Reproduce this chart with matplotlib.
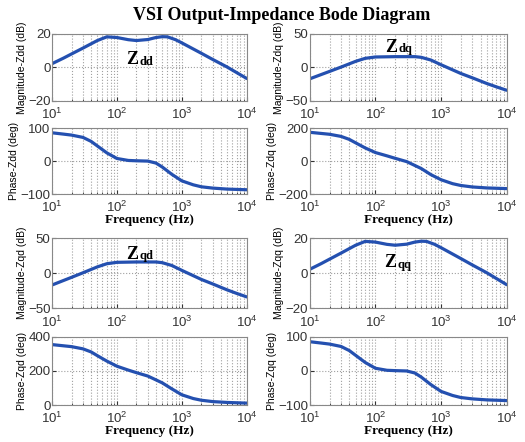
import matplotlib
matplotlib.use('Agg')
import matplotlib.pyplot as plt
import numpy as np

#=================================================================================
# values
f_dd_mag = [10, 15, 20, 30, 50, 70, 100, 150, 200, 300, 400, 500, 600, 800, 1000, 2000, 3000, 5000, 7000, 10000]
zdd_mag = [2.2, 5.5, 8, 11.5, 16, 18.2, 17.8, 16.5, 16.0, 16.6, 17.8, 18.3, 18.2, 16.5, 14.6, 8.4, 4.7, 0.2, -3.1, -6.6]
zqq_mag = [2.2, 5.5, 8, 11.5, 16, 18.2, 17.8, 16.5, 16.0, 16.6, 17.8, 18.3, 18.2, 16.5, 14.6, 8.4, 4.7, 0.2, -3.1, -6.6]

f_dd_ph = [10, 15, 20, 30, 40, 50, 70, 100, 150, 200, 300, 400, 500, 700, 1000, 1500, 2000, 3000, 5000, 10000]
zdd_ph = [86, 82, 79, 72, 60, 46, 25, 8, 2, 1, 0, -6, -18, -40, -60, -72, -78, -82, -85, -87]
zqq_ph = [86, 82, 79, 72, 60, 46, 25, 8, 2, 1, 0, -6, -18, -40, -60, -72, -78, -82, -85, -87]

f_dq_mag = [10, 20, 30, 50, 70, 100, 200, 400, 500, 700, 1000, 2000, 3000, 5000, 7000, 10000]
zdq_mag = [-17, -6, 0.5, 9, 13.5, 15.5, 16, 16, 15, 11, 4, -9, -15.5, -24, -29, -34]
zqd_mag = [-17, -6, 0.5, 9, 13.5, 15.5, 16, 16, 15, 11, 4, -9, -15.5, -24, -29, -34]

f_dq_ph = [10, 20, 30, 40, 50, 70, 100, 150, 200, 300, 500, 700, 1000, 1500, 2000, 3000, 5000, 10000]
zdq_ph = [175, 163, 150, 132, 111, 80, 52, 32, 17, -3, -45, -82, -113, -137, -148, -157, -163, -167]
zqd_ph = [355, 343, 330, 312, 290, 258, 228, 205, 190, 170, 130, 95, 60, 38, 28, 20, 15, 11]

#=================================================================================
plt.rcParams['font.family'] = ['Liberation Sans', 'DejaVu Sans']
plt.rcParams['mathtext.default'] = 'regular'

fig = plt.figure(figsize=(5.25, 4.42), dpi=100)
fig.patch.set_facecolor('white')

line_col = '#2450b0'
grid_col = '#a0a0a0'

left_x, left_w = 0.099, 0.371
right_x, right_w = 0.590, 0.375

panels = [
    # rect, freqs, values, ylim, yticks, ylabel, xlabel
    ([left_x, 0.7715, left_w, 0.152], f_dd_mag, zdd_mag, (-20, 20), [-20, 0, 20], 'Magnitude-Zdd (dB)', False),
    ([left_x, 0.561, left_w, 0.149], f_dd_ph, zdd_ph, (-100, 100), [-100, 0, 100], 'Phase-Zdd (deg)', True),
    ([right_x, 0.7715, right_w, 0.152], f_dq_mag, zdq_mag, (-50, 50), [-50, 0, 50], 'Magnitude-Zdq (dB)', False),
    ([right_x, 0.561, right_w, 0.149], f_dq_ph, zdq_ph, (-200, 200), [-200, 0, 200], 'Phase-Zdq (deg)', True),
    ([left_x, 0.303, left_w, 0.158], f_dq_mag, zqd_mag, (-50, 50), [-50, 0, 50], 'Magnitude-Zqd (dB)', False),
    ([left_x, 0.0837, left_w, 0.154], f_dq_ph, zqd_ph, (0, 400), [0, 200, 400], 'Phase-Zqd (deg)', True),
    ([right_x, 0.303, right_w, 0.158], f_dd_mag, zqq_mag, (-20, 20), [-20, 0, 20], 'Magnitude-Zqq (dB)', False),
    ([right_x, 0.0837, right_w, 0.154], f_dd_ph, zqq_ph, (-100, 100), [-100, 0, 100], 'Phase-Zqq (deg)', True),
]

axes = []
for rect, fr, vals, ylim, yt, ylab, xlab in panels:
    ax = fig.add_axes(rect)
    ax.semilogx(fr, vals, color=line_col, lw=2.3, solid_capstyle='round')
    ax.set_xlim(10, 1e4)
    ax.set_ylim(*ylim)
    ax.set_yticks(yt)
    ax.set_xticks([10, 100, 1000, 10000])
    ax.grid(True, which='major', axis='both', ls=':', color=grid_col, lw=0.8)
    ax.grid(True, which='minor', axis='x', ls=':', color=grid_col, lw=0.8)
    ax.set_axisbelow(True)
    ax.tick_params(which='both', direction='in', labelsize=9.5, colors='#333333')
    ax.tick_params(axis='y', pad=1)
    ax.tick_params(axis='x', pad=4.5)
    ax.tick_params(which='major', length=3)
    ax.tick_params(which='minor', length=1.5)
    for s in ax.spines.values():
        s.set_color('#888888')
        s.set_linewidth(0.8)
    ax.set_ylabel(ylab, fontsize=7.5, labelpad=1)
    if xlab:
        ax.set_xlabel('Frequency (Hz)', fontsize=9.5, fontweight='bold',
                      family='Liberation Serif', labelpad=-1)
    axes.append(ax)

# Z labels inside magnitude plots
def zlabel(ax, x, y, sub):
    ax.text(x, y, 'Z', fontsize=13, fontweight='bold', family='Liberation Serif',
            ha='left', va='center')
    ax.annotate(sub, xy=(x, y), xytext=(9.5, -1.5), textcoords='offset points',
                fontsize=9, fontweight='bold', family='Liberation Serif',
                ha='left', va='center')

zlabel(axes[0], 140, 4.5, 'dd')
zlabel(axes[2], 140, 30, 'dq')
zlabel(axes[4], 140, 27, 'qd')
zlabel(axes[6], 135, 6, 'qq')

fig.text(0.537, 0.966, 'VSI Output-Impedance Bode Diagram', ha='center', va='center',
         fontsize=13, fontweight='bold', family='Liberation Serif')

plt.savefig('out.png', dpi=100, facecolor='white')
